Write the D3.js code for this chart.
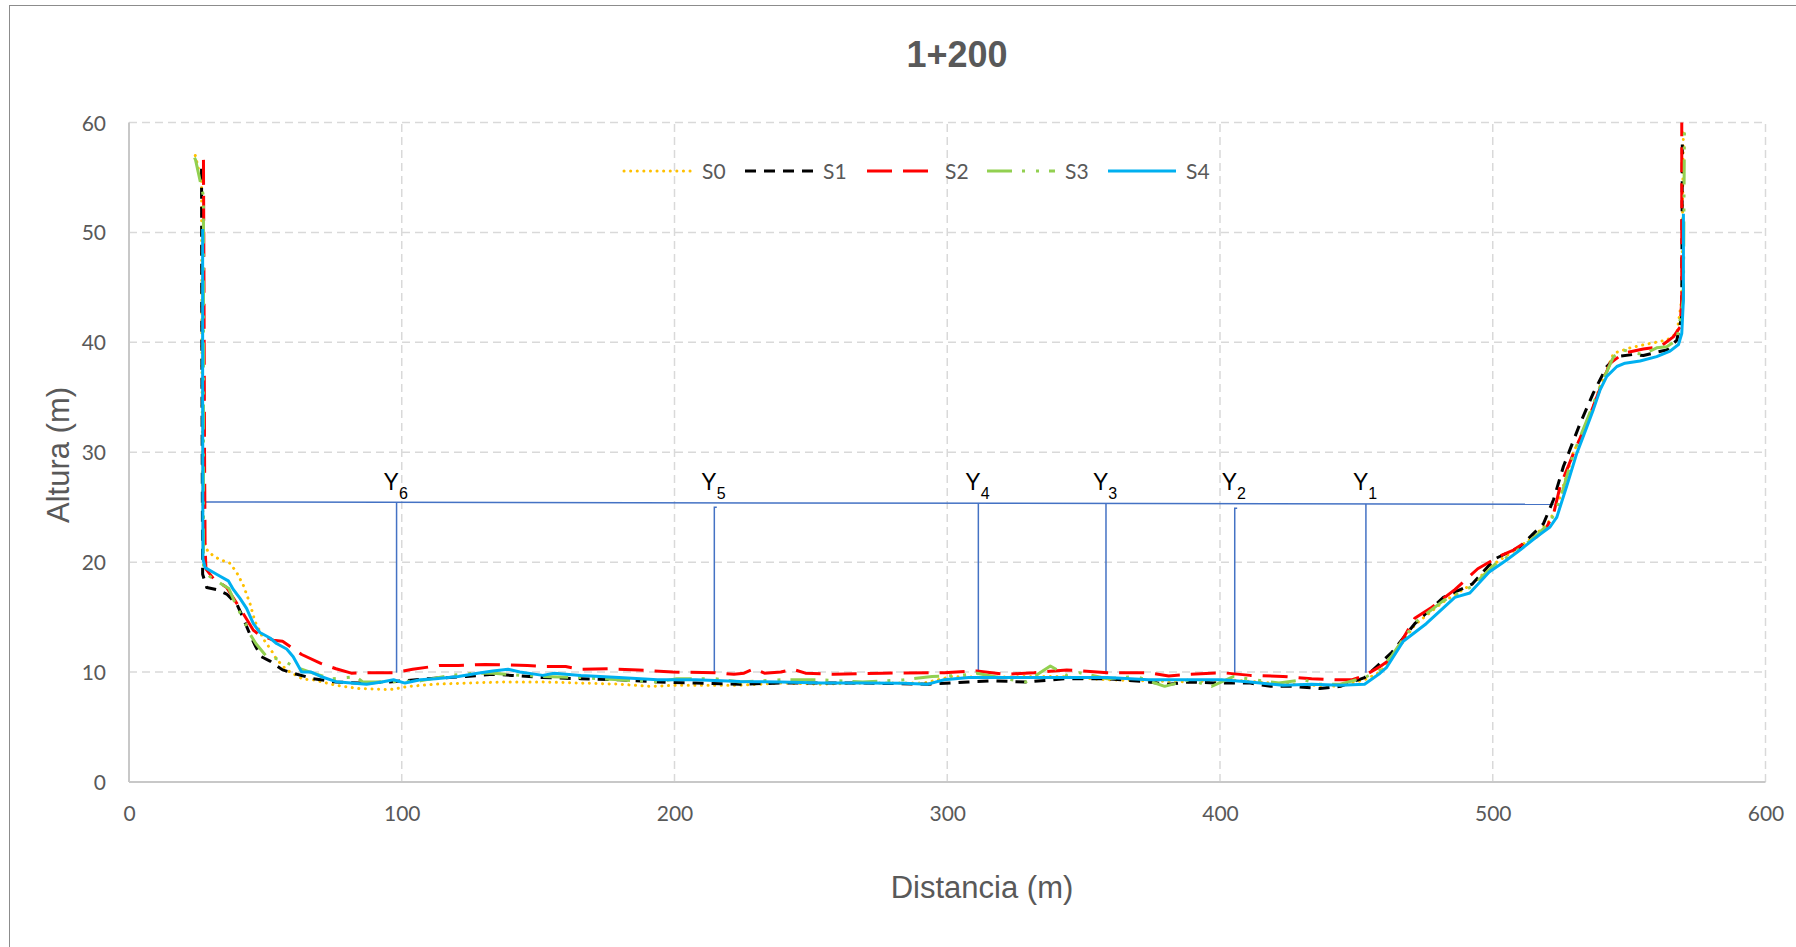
<!DOCTYPE html>
<html><head><meta charset="utf-8">
<script src="https://cdn.jsdelivr.net/npm/d3@7"></script>
<style>body{margin:0;background:#fff}svg{display:block}</style>
</head><body>
<svg id="c" width="1796" height="947"></svg>
<script>
const title = "1+200";
const xLabel = "Distancia (m)";
const yLabel = "Altura (m)";
const xTicks = [0,100,200,300,400,500,600];
const yTicks = [0,10,20,30,40,50,60];
const seriesNames = ["S0","S1","S2","S3","S4"];

const S0 = [[24.3,57.0],[26.6,54.6],[26.7,40],[27.0,25],[27.9,21.5],[29.1,20.9],[32.8,20.3],[37.0,19.9],[39.4,19.1],[41.9,17.9],[44.4,16.2],[46.2,14.6],[47.8,13.8],[49.3,13.0],[52.1,12.0],[54,11.2],[57.7,10.2],[63.9,9.35],[67.5,9.3],[75.9,8.8],[84.3,8.5],[95.5,8.4],[102.6,8.7],[112.4,8.9],[123.6,9.0],[137.6,9.1],[151.7,9.1],[165.7,9.0],[179.7,8.9],[191,8.7],[200.8,8.8],[214.8,8.8],[224,8.8],[239,9.0],[254,8.9],[269,9.0],[291.4,9.0],[301.8,9.6],[313.8,9.5],[328.8,9.6],[340.8,9.6],[358.7,9.3],[373.7,9.2],[388.7,9.1],[403.6,9.3],[418.6,9.0],[433.6,8.8],[444.1,8.7],[453.0,9.3],[458.7,10.0],[463,11.3],[471.4,14.3],[481.9,16.4],[492.4,18.0],[500.8,19.9],[506.4,20.8],[514.9,22.3],[521,23.8],[524.5,25.8],[529.6,30.0],[534.5,32.6],[539.4,36.0],[544.3,39.0],[550.4,39.5],[557.7,39.9],[563.8,40.2],[567.5,40.8],[569.3,43.9],[569.9,59.6]];

const S1 = [[26.6,55.8],[26.7,40],[26.9,25],[27.0,18.9],[28.5,17.7],[32.1,17.5],[35.8,17.1],[39.5,16.2],[41.7,15.0],[44.4,13.4],[46.5,12.3],[48.5,11.4],[51.7,11.0],[56.3,10.2],[60.2,9.9],[67.5,9.4],[75.9,9.1],[84.3,9.0],[95.5,9.1],[109.6,9.4],[123.6,9.6],[133.4,9.8],[140.4,9.7],[151.7,9.5],[165.7,9.4],[179.7,9.3],[193.8,9.1],[207.8,9.0],[224,8.9],[239,9.0],[254,9.0],[269,9.0],[292.9,8.9],[307.8,9.1],[316.8,9.2],[328.8,9.1],[343.8,9.4],[358.7,9.4],[373.7,9.1],[381.2,8.9],[388.7,9.1],[400.6,9.0],[411.1,9.0],[418.6,8.7],[426.1,8.7],[436.6,8.5],[444.1,8.7],[453.0,9.5],[458.7,10.8],[463,11.8],[471.4,14.4],[481.9,16.8],[492.4,18.0],[500.8,20.3],[510.0,21.4],[514.9,22.6],[518.6,23.5],[522.3,25.7],[525.9,28.7],[532.0,32.6],[536.9,35.4],[541.8,37.8],[545.5,38.7],[551.6,38.9],[555.2,38.8],[560.1,39.1],[563.8,39.3],[567.5,40.2],[569.3,42.4],[569.5,58]];

const S2 = [[27.3,56.6],[27.5,45],[27.7,30],[27.9,21.5],[28.2,19.4],[29.1,19.1],[31,18.5],[35.8,17.7],[39.4,16.3],[42.2,15.2],[45.6,13.8],[47.8,13.4],[52.9,12.9],[56.3,12.8],[63.3,11.6],[70.3,10.8],[75.9,10.3],[81.5,9.9],[90,9.95],[97,9.95],[104,10.25],[113.8,10.6],[120.8,10.6],[130.6,10.7],[137.6,10.65],[146.1,10.6],[153.1,10.5],[160.1,10.5],[165.7,10.25],[175.5,10.3],[186.7,10.2],[199.4,10.0],[214.8,9.95],[221.8,9.8],[225.5,9.9],[229.2,10.3],[233,9.9],[239,10.0],[243.5,10.25],[248,9.9],[258.4,9.8],[276.4,9.9],[298.9,9.95],[310.8,10.1],[321.3,9.8],[331.8,9.95],[343.8,10.2],[358.7,9.95],[373.7,9.95],[381.2,9.65],[388.7,9.8],[400.6,9.95],[411.1,9.7],[423.1,9.6],[433.6,9.4],[442.6,9.3],[448.5,9.3],[453,9.7],[458.7,10.5],[463,11.25],[471.4,14.9],[477.7,15.9],[486.1,17.5],[494.5,19.4],[502.9,20.6],[507.6,21.1],[512.5,21.9],[516.1,22.3],[519.8,23.2],[522.3,24.4],[524.7,26.9],[529.6,29.9],[533.3,32.0],[536.9,34.2],[540.6,36.6],[543.0,38.1],[547.9,39.0],[555.2,39.4],[561.4,39.6],[566.2,40.5],[568.7,41.4],[569.3,43.9],[569.3,60]];

const S3 = [[24.0,56.8],[24.4,56.6],[27.3,53.3],[27.3,35],[27.3,19.5],[29.6,18.7],[34.6,17.9],[36.6,17.6],[39.4,16.0],[42.2,14.7],[44.5,13.4],[46.5,12.6],[50.5,11.4],[56.3,11.1],[60.5,10.5],[67.5,9.9],[74.5,9.4],[80,9.5],[83,9.6],[85.7,9.1],[95.5,9.1],[106.8,9.2],[118,9.7],[126.4,9.9],[133.4,9.9],[143.3,9.7],[151.7,9.6],[165.7,9.5],[179.7,9.3],[193.8,9.1],[200.8,9.4],[214.8,9.4],[224,9.1],[239,9.3],[254,9.3],[269,9.1],[284,9.3],[294.4,9.6],[304.8,9.7],[310.8,9.9],[321.3,9.4],[328.8,9.1],[337.8,10.55],[343.8,9.7],[348.3,9.95],[358.7,9.4],[369.2,9.6],[379.7,8.7],[388.7,9.3],[396.9,8.7],[405.1,9.6],[412.6,9.3],[421.6,9.0],[430.6,9.3],[436.6,8.9],[444.1,8.9],[453.0,9.5],[458.7,10.2],[463,11.5],[471.4,14.5],[481.9,16.5],[492.4,17.8],[500.8,19.8],[507.6,20.8],[515,22.2],[521.0,23.6],[524.7,25.7],[529.6,29.9],[534.5,32.9],[539.4,36.0],[544.3,38.7],[547.9,39.3],[552.8,39.0],[555.2,38.9],[560.1,39.5],[563.8,39.6],[567.5,40.2],[569.9,43.9],[570.3,60]];

const S4 = [[27.0,50.3],[27.0,35],[27.1,20.3],[27.9,19.5],[32.1,18.9],[36.4,18.3],[38.3,17.5],[40.7,16.7],[43.1,15.8],[45.6,14.4],[48.0,13.6],[51.7,13.1],[54.1,12.6],[57.8,12.1],[60.2,11.4],[63.3,10.0],[66.8,10.0],[70.3,9.6],[75.9,9.13],[81.5,9.0],[87.1,8.9],[92.7,9.1],[97,9.3],[101.2,9.0],[106.8,9.3],[112.4,9.4],[120.8,9.6],[127.8,9.9],[133.4,10.1],[139.0,10.25],[143.3,10.0],[151.7,9.7],[155.9,9.9],[165.7,9.7],[179.7,9.5],[193.8,9.3],[207.8,9.3],[224,9.15],[239,9.1],[254,9.0],[269,9.0],[284,8.98],[292.9,8.9],[298.9,9.3],[307.8,9.5],[328.8,9.5],[343.8,9.5],[358.7,9.5],[373.7,9.3],[388.7,9.3],[400.6,9.3],[411.1,9.1],[423.1,8.8],[433.6,8.9],[444.1,8.8],[453.0,8.9],[458.7,9.9],[461,10.4],[467.2,12.8],[475.6,14.4],[486.1,16.8],[491.6,17.2],[498.7,19.1],[505.1,20.2],[510.0,21.1],[516.1,22.3],[521.0,23.2],[523.5,24.1],[527.1,26.9],[530.8,29.9],[534.5,32.3],[536.9,33.9],[539.4,35.7],[541.8,36.9],[545.5,37.8],[548.5,38.1],[554.0,38.3],[560.1,38.7],[565.0,39.2],[568.1,39.8],[569.3,40.8],[569.9,43.9],[569.9,51.7]];

// water level line and Y markers
const levelLine = [[28.1,25.48],[522.3,25.27]];
const markerNames = ["6","5","4","3","2","1"];
const markerX = [98.1,214.6,311.4,358.2,405.4,453.5];
const markerTop = [25.46,25.0,25.36,25.33,24.9,25.3];
const markerBottom = [9.95,9.98,10.13,9.8,9.74,9.95];
const markerHook = [false,true,false,false,true,false];

const svg = d3.select("#c");
const W = 1796, H = 947;
const x = d3.scaleLinear().domain([0,600]).range([129,1765.5]);
const y = d3.scaleLinear().domain([0,60]).range([782,122.5]);
const txt = "#595959";
const tickFont = "Lato, 'Open Sans', sans-serif";
const arial = "'Liberation Sans', Arial, sans-serif";

svg.append("rect").attr("x",9.5).attr("y",5.5).attr("width",W+10).attr("height",H+10)
  .attr("fill","#fff").attr("stroke","#8c8c8c").attr("stroke-width",1);

// gridlines
svg.append("g").selectAll("line").data(yTicks.filter(d=>d>0)).join("line")
  .attr("x1",x(0)).attr("x2",x(600)).attr("y1",d=>y(d)).attr("y2",d=>y(d))
  .attr("stroke","#d9d9d9").attr("stroke-width",1.5).attr("stroke-dasharray","8,5");
svg.append("g").selectAll("line").data(xTicks.filter(d=>d>0)).join("line")
  .attr("x1",d=>x(d)).attr("x2",d=>x(d)).attr("y1",y(0)).attr("y2",y(60))
  .attr("stroke","#d9d9d9").attr("stroke-width",1.5).attr("stroke-dasharray","8,5");
// axis lines
svg.append("line").attr("x1",x(0)).attr("x2",x(0)).attr("y1",y(0)).attr("y2",y(60))
  .attr("stroke","#c8c8c8").attr("stroke-width",2);
svg.append("line").attr("x1",x(0)).attr("x2",x(600)).attr("y1",y(0)).attr("y2",y(0))
  .attr("stroke","#c8c8c8").attr("stroke-width",2);

// axes labels
const gx = svg.append("g").attr("transform",`translate(0,${y(0)})`)
  .call(d3.axisBottom(x).tickValues(xTicks).tickSize(0).tickPadding(0).tickFormat(d3.format("d")));
gx.select(".domain").remove();
gx.selectAll("text").attr("dy",null).attr("y",39).attr("font-size",21).attr("font-family",tickFont).attr("fill",txt);
const gy = svg.append("g").attr("transform",`translate(${x(0)},0)`)
  .call(d3.axisLeft(y).tickValues(yTicks).tickSize(0).tickPadding(0).tickFormat(d3.format("d")));
gy.select(".domain").remove();
gy.selectAll("text").attr("x",-23).attr("dy","0.36em").attr("font-size",21).attr("font-family",tickFont).attr("fill",txt);

// titles
svg.append("text").attr("x",957).attr("y",67).attr("text-anchor","middle")
  .attr("font-family",arial).attr("font-weight","bold").attr("font-size",36).attr("fill",txt).text(title);
svg.append("text").attr("x",982).attr("y",898).attr("text-anchor","middle")
  .attr("font-family",arial).attr("font-size",31).attr("fill",txt).text(xLabel);
svg.append("text").attr("transform","translate(69,455) rotate(-90)").attr("text-anchor","middle")
  .attr("font-family",arial).attr("font-size",31).attr("fill",txt).text(yLabel);

// level line and markers
const blue = "#4472C4";
const line = d3.line().x(d=>x(d[0])).y(d=>y(d[1]));
svg.append("path").attr("d",line(levelLine)).attr("fill","none").attr("stroke",blue).attr("stroke-width",1.5);
markerX.forEach((mx,i)=>{
  const pts = [[mx,markerBottom[i]],[mx,markerTop[i]]];
  if (markerHook[i]) pts.push([mx+0.9,markerTop[i]]);
  svg.append("path").attr("d",line(pts)).attr("fill","none").attr("stroke",blue).attr("stroke-width",1.5);
  const t = svg.append("text").attr("x",x(mx)-13).attr("y",490).attr("font-family",arial)
    .attr("font-size",23).attr("fill","#000");
  t.append("tspan").text("Y");
  t.append("tspan").attr("font-size",16).attr("dy",9).text(markerNames[i]);
});

// series
const styles = [
  {color:"#FFC000", dash:"0.1,6.5", cap:"round"},
  {color:"#000000", dash:"11,8", cap:"butt"},
  {color:"#FF0000", dash:"25,11", cap:"butt"},
  {color:"#92D050", dash:"25,10,3,11,3,10", cap:"butt"},
  {color:"#00B0F0", dash:null, cap:"butt"}
];
const data = [S0,S1,S2,S3,S4];
data.forEach((s,i)=>{
  svg.append("path").attr("d",line(s)).attr("fill","none")
    .attr("stroke",styles[i].color).attr("stroke-width",3)
    .attr("stroke-dasharray",styles[i].dash).attr("stroke-linecap",styles[i].cap)
    .attr("stroke-linejoin","round");
});

// legend
const legX = [624,745,867,987,1108];
const legY = 171;
seriesNames.forEach((n,i)=>{
  svg.append("line").attr("x1",legX[i]).attr("x2",legX[i]+68).attr("y1",legY).attr("y2",legY)
    .attr("stroke",styles[i].color).attr("stroke-width",3)
    .attr("stroke-dasharray",styles[i].dash).attr("stroke-linecap",styles[i].cap);
  svg.append("text").attr("x",legX[i]+78).attr("y",legY).attr("dy","0.36em")
    .attr("font-family",tickFont).attr("font-size",21).attr("fill",txt).text(n);
});
</script>
</body></html>
